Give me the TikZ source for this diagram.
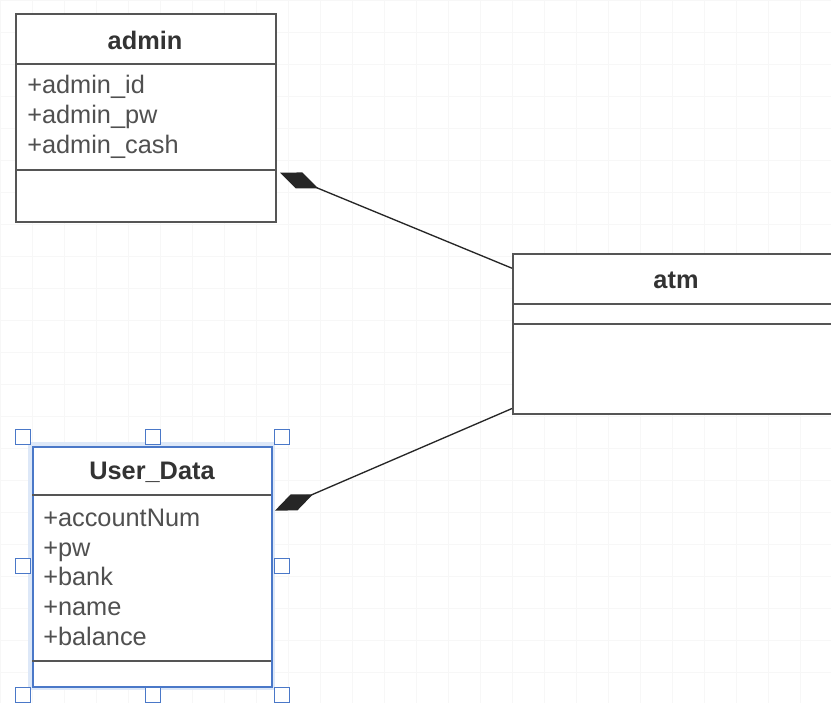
\documentclass[tikz,border=0pt]{standalone}
\usepackage{fontspec}
\setmainfont{Liberation Sans}
\usetikzlibrary{calc,arrows.meta}

\definecolor{boxline}{HTML}{555555}
\definecolor{txtgray}{HTML}{505050}
\definecolor{selblue}{HTML}{4A78C8}
\definecolor{glowblue}{HTML}{DDE8F8}

\tikzset{
	classbox/.style={draw=boxline, line width=1.5pt, fill=white, inner sep=0pt, anchor=north west},
	sepline/.style={draw=boxline, line width=1.5pt},
	classtitle/.style={font=\bfseries\fontsize{19}{23}\selectfont, text=black!80, inner sep=0pt},
	attr/.style={font=\fontsize{19}{23}\selectfont, text=txtgray, anchor=west, inner sep=0pt, text height=14pt, text depth=4pt},
	compo/.style={{Diamond[length=31pt, width=13pt]}-, line width=1pt, draw=black!85},
	handle/.style={draw=selblue, fill=white, line width=0.8pt, minimum size=11pt, inner sep=0pt}
}

\begin{document}
\begin{tikzpicture}[x=0.75pt, y=-0.75pt]
		%%%%% START %%%%%
		\clip (0, 0) rectangle (831, 703);
		\fill[white] (0, 0) rectangle (831, 703);
		\draw[black!3, step=24pt] (0, 0) grid (831, 703);
		
		% admin
		\node[classbox, minimum width=195pt, minimum height=156pt] (admin) at (15, 13) {};
		\node[classtitle] (admintitle) at (145, 40) {admin};
		\draw[sepline] (15, 64) -- (275, 64);
		\node[attr] (adminid) at (27, 87) {+admin\_id};
		\node[attr] (adminpw) at (27, 117) {+admin\_pw};
		\node[attr] (admincash) at (27, 147) {+admin\_cash};
		\draw[sepline] (15, 170) -- (275, 170);
		
		% atm
		\node[classbox, minimum width=262pt, minimum height=120pt] (atm) at (512, 253) {};
		\node[classtitle] (atmtitle) at (676, 280) {atm};
		\draw[sepline] (512, 304) -- (860, 304);
		\draw[sepline] (512, 324) -- (860, 324);
		
		% User_Data (selected)
		\draw[glowblue, line width=6pt] (32, 446) rectangle (271, 686);
		\node[classbox, draw=selblue, minimum width=179.25pt, minimum height=180pt] (user) at (32, 446) {};
		\node[classtitle] (usertitle) at (152, 472) {User\_Data};
		\draw[sepline] (32, 495) -- (271, 495);
		\node[attr] (useracc) at (43, 520) {+accountNum};
		\node[attr] (userpw) at (43, 550) {+pw};
		\node[attr] (userbank) at (43, 579) {+bank};
		\node[attr] (username) at (43, 609) {+name};
		\node[attr] (userbal) at (43, 639) {+balance};
		\draw[sepline] (32, 661) -- (271, 661);
		
		\node[handle] (hnw) at (23, 437) {};
		\node[handle] (hn) at (153, 437) {};
		\node[handle] (hne) at (282, 437) {};
		\node[handle] (hw) at (23, 566) {};
		\node[handle] (he) at (282, 566) {};
		\node[handle] (hsw) at (23, 695) {};
		\node[handle] (hs) at (153, 695) {};
		\node[handle] (hse) at (282, 695) {};
		
		% compositions
		\draw[compo] ($(admin.north east)!0.76!(admin.south east)+(3, 0)$) -- ($(atm.north west)!0.094!(atm.south west)$);
		\draw[compo] ($(user.north east)!0.267!(user.south east)+(2, 0)$) -- ($(atm.north west)!0.96!(atm.south west)$);
		
		%%%%% END %%%%%
	\end{tikzpicture}
\end{document}
